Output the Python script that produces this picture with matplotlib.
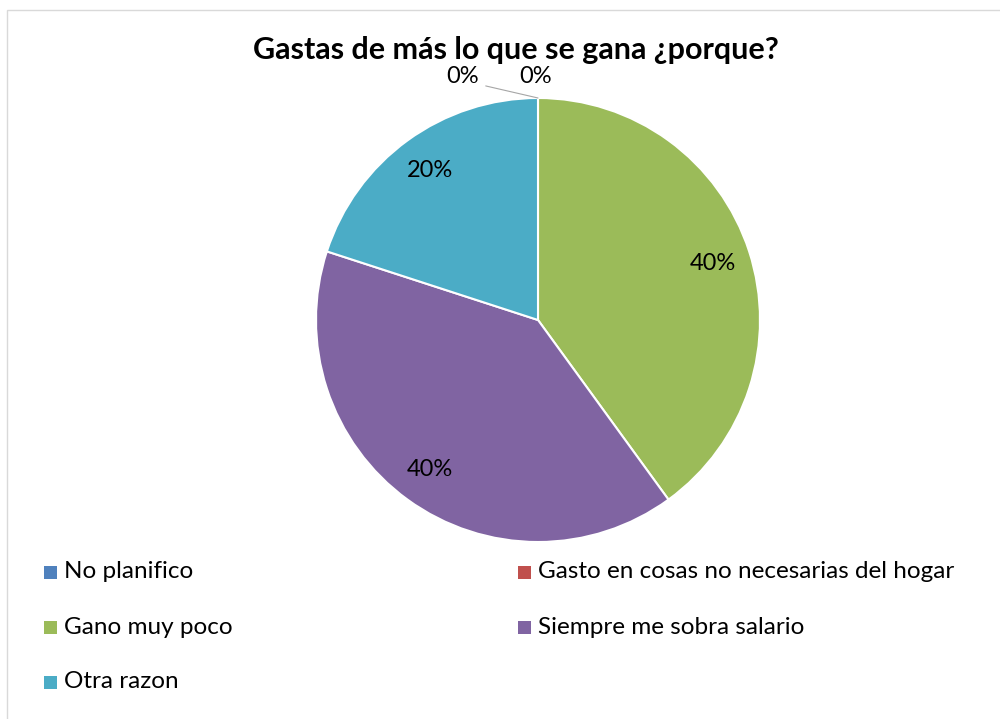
"""Pie chart: Gastas de más lo que se gana ¿porque?"""

import matplotlib.pyplot as plt
import numpy as np
from matplotlib.patches import Rectangle

categories = [
    "No planifico",
    "Gasto en cosas no necesarias del hogar",
    "Gano muy poco",
    "Siempre me sobra salario",
    "Otra razon",
]
values = [0, 0, 40, 40, 20]
colors = ["#4F81BD", "#C0504D", "#9BBB59", "#8064A2", "#4BACC6"]
title = "Gastas de más lo que se gana ¿porque?"

plt.rcParams["font.family"] = ["Lato", "DejaVu Sans"]

W, H = 1000, 719
fig = plt.figure(figsize=(W / 100, H / 100), dpi=100)

# outer chart frame (light grey, runs off right/bottom)
fig.patches.append(
    Rectangle((7 / W, -0.1), 1.2, 1 - 10 / H + 0.1, transform=fig.transFigure,
              fill=False, edgecolor="#D9D9D9", linewidth=1.0)
)

cx, cy, r = 538, 320, 222
ax = fig.add_axes([(cx - r) / W, (H - cy - r) / H, 2 * r / W, 2 * r / H])
ax.pie(values, colors=colors, startangle=90, counterclock=False, radius=1,
       wedgeprops=dict(edgecolor="white", linewidth=1.5))
ax.set_xlim(-1, 1)
ax.set_ylim(-1, 1)
ax.set_aspect("equal")
ax.axis("off")

pct_size = 17
total = sum(values)
angle = 90.0
zero_idx = 0
for v in values:
    span = 360.0 * v / total
    mid = np.deg2rad(angle - span / 2)
    pct = f"{v / total * 100:.0f}%"
    if v > 0:
        d = 0.83
        ax.text(d * np.cos(mid), d * np.sin(mid), pct, ha="center", va="center",
                fontsize=pct_size)
    else:
        x0, y0 = np.cos(mid), np.sin(mid)
        if zero_idx == 0:
            ax.annotate(pct, xy=(x0, y0), xytext=(-0.34, 1.095), ha="center",
                        va="center", fontsize=pct_size,
                        arrowprops=dict(arrowstyle="-", color="#A6A6A6", lw=0.8,
                                        shrinkA=3, shrinkB=0, relpos=(1.0, 0.1),
                                        connectionstyle="angle,angleA=0,angleB=167,rad=0"))
        else:
            ax.text(-0.01, 1.095, pct, ha="center", va="center", fontsize=pct_size)
        zero_idx += 1
    angle -= span

fig.text(516 / W, 1 - 50 / H, title, ha="center", va="center", fontsize=22,
         fontweight="bold")

# legend, two columns
col_x = [50, 524]
row_y = [572, 627, 682]
for i, (lab, col) in enumerate(zip(categories, colors)):
    x = col_x[i % 2]
    y = row_y[i // 2]
    fig.patches.append(
        Rectangle(((x - 6.5) / W, 1 - (y + 6.5) / H), 13 / W, 13 / H,
                  transform=fig.transFigure, facecolor=col, edgecolor="none")
    )
    fig.text((x + 14) / W, 1 - y / H, lab, ha="left", va="center", fontsize=17.5)

fig.savefig("out.png", dpi=100)
